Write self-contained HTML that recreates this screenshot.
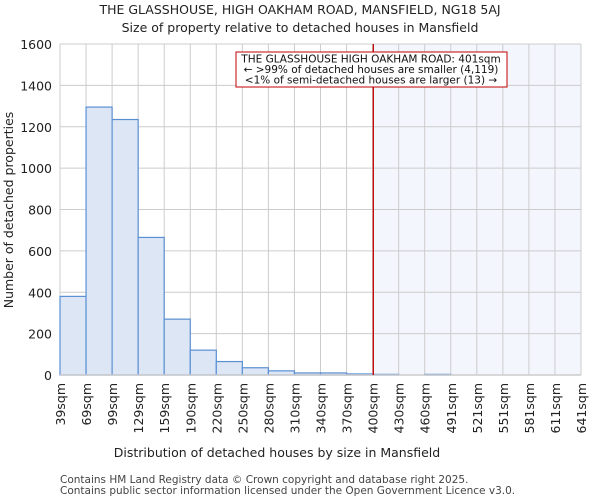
<!DOCTYPE html>
<html><head><meta charset="utf-8"><style>
body{margin:0;background:#fff;font-family:"DejaVu Sans","Liberation Sans",sans-serif;}
</style></head><body>
<svg id="chart" width="600" height="500" xmlns="http://www.w3.org/2000/svg" font-family="DejaVu Sans, Liberation Sans, sans-serif">
<text x="300" y="14" text-anchor="middle" font-size="12.5" fill="#222">THE GLASSHOUSE, HIGH OAKHAM ROAD, MANSFIELD, NG18 5AJ</text>
<text x="300" y="32" text-anchor="middle" font-size="12.5" fill="#222">Size of property relative to detached houses in Mansfield</text>
<g id="plot"></g>
<text x="277" y="457" text-anchor="middle" font-size="12.5" fill="#222">Distribution of detached houses by size in Mansfield</text>
<text transform="translate(13,210) rotate(-90)" text-anchor="middle" font-size="12.5" fill="#222">Number of detached properties</text>
<text x="60" y="483" font-size="10.5" fill="#444">Contains HM Land Registry data © Crown copyright and database right 2025.</text>
<text x="60" y="494" font-size="10.5" fill="#444">Contains public sector information licensed under the Open Government Licence v3.0.</text>
</svg>
<script>
const binLabels=["39sqm","69sqm","99sqm","129sqm","159sqm","190sqm","220sqm","250sqm","280sqm","310sqm","340sqm","370sqm","400sqm","430sqm","460sqm","491sqm","521sqm","551sqm","581sqm","611sqm","641sqm"];
const counts=[380,1295,1235,665,270,120,65,35,20,10,10,5,3,0,3,0,0,0,0,0];
const yTicks=[0,200,400,600,800,1000,1200,1400,1600];
const propertySize=401;
const binStart=39, binWidth=30.1;
const L=60,R=581,T=44,B=375;
const NS="http://www.w3.org/2000/svg";
const g=document.getElementById('plot');
const xs=i=>L+(R-L)*i/counts.length;
const xv=v=>L+(R-L)*(v-binStart)/(binWidth*counts.length);
const ys=v=>B-(B-T)*v/1600;
function mk(t,a){const e=document.createElementNS(NS,t);for(const k in a)e.setAttribute(k,a[k]);g.appendChild(e);return e;}
const px=xv(propertySize);
let e=mk('rect',{x:px,y:T,width:R-px,height:B-T,fill:'#f3f6fd'});


for(const t of yTicks){e=mk('line',{x1:L,x2:R,y1:ys(t),y2:ys(t),stroke:'#ccc','stroke-width':1});


e=mk('text',{x:L-8,y:ys(t)+5,'text-anchor':'end','font-size':'12.5',fill:'#222'});e.textContent=t;

}
for(let i=0;i<=counts.length;i++){e=mk('line',{x1:xs(i),x2:xs(i),y1:T,y2:B,stroke:'#ccc','stroke-width':1});


e=mk('text',{transform:`translate(${xs(i)+5},${B+8}) rotate(-90)`,'text-anchor':'end','font-size':'12.5',fill:'#222'});e.textContent=binLabels[i];

}
counts.forEach((c,i)=>{if(c<=0)return;e=mk('rect',{x:xs(i),y:ys(c),width:xs(i+1)-xs(i),height:B-ys(c),fill:'#dce6f4',stroke:'#5b8fd4','stroke-width':1.2});

});
e=mk('line',{x1:L,x2:R,y1:B,y2:B,stroke:'#ccc','stroke-width':1.5});


e=mk('line',{x1:px,x2:px,y1:T,y2:B,stroke:'#c00000','stroke-width':1.3});


e=mk('rect',{x:236,y:52,width:271,height:35,fill:'#fff',stroke:'#c00000','stroke-width':1});


["THE GLASSHOUSE HIGH OAKHAM ROAD: 401sqm","← >99% of detached houses are smaller (4,119)","<1% of semi-detached houses are larger (13) →"].forEach((s,i)=>{
e=mk('text',{x:371,y:62.5+i*10.5,'text-anchor':'middle','font-size':'10.5',fill:'#111'});e.textContent=s;

});
</script>
</body></html>
